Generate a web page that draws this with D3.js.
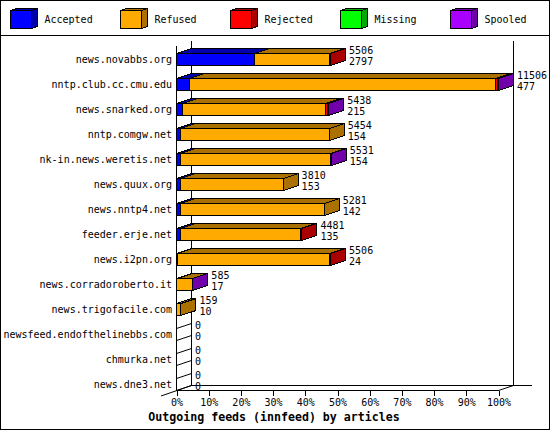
<!DOCTYPE html>
<html>
<head>
<meta charset="utf-8">
<script src="https://cdn.jsdelivr.net/npm/d3@7"></script>
<style>
  html, body { margin: 0; padding: 0; background: #fff; }
  svg { display: block; }
  text { font-family: "DejaVu Sans Mono", monospace; font-size: 10px; fill: #000; }
  .title { font-size: 11.6px; font-weight: bold; }
  .domain { display: none; }
  polygon, rect, line { shape-rendering: crispEdges; }
</style>
</head>
<body>
<div id="chart"></div>
<script>
const hosts = [
  "news.novabbs.org", "nntp.club.cc.cmu.edu", "news.snarked.org", "nntp.comgw.net",
  "nk-in.news.weretis.net", "news.quux.org", "news.nntp4.net", "feeder.erje.net",
  "news.i2pn.org", "news.corradoroberto.it", "news.trigofacile.com",
  "newsfeed.endofthelinebbs.com", "chmurka.net", "news.dne3.net",
];
const names = ["Accepted", "Refused", "Rejected", "Missing", "Spooled"];
const colors = ["#0000ff", "#ffaa00", "#ff0000", "#00ff00", "#aa00ff"];
const darkColors = ["#0000aa", "#aa7100", "#aa0000", "#00aa00", "#7100aa"];

const accepted = [2797, 477, 215, 154, 154, 153, 142, 135, 24, 17, 10, 0, 0, 0];
const refused = [2660, 10920, 5115, 5300, 5365, 3657, 5139, 4306, 5430, 555, 149, 0, 0, 0];
const rejected = [49, 60, 65, 0, 0, 0, 0, 40, 52, 0, 0, 0, 0, 0];
const missing = [0, 0, 0, 0, 0, 0, 0, 0, 0, 0, 0, 0, 0, 0];
const spooled = [0, 49, 43, 0, 12, 0, 0, 0, 0, 13, 0, 0, 0, 0];
const totals = [5506, 11506, 5438, 5454, 5531, 3810, 5281, 4481, 5506, 585, 159, 0, 0, 0];
const percentTicks = [0, 10, 20, 30, 40, 50, 60, 70, 80, 90, 100];

const w = 550;
const h = 430;
const depthX = 15;
const depthY = 5;
const barH = 12;

const svg = d3.select("#chart").append("svg").attr("width", w).attr("height", h);
svg.append("rect").attr("x", 0.5).attr("y", 0.5).attr("width", w - 1).attr("height", h - 1)
  .attr("fill", "#fff").attr("stroke", "#000");
svg.append("line").attr("x1", 0).attr("x2", w).attr("y1", 35.5).attr("y2", 35.5).attr("stroke", "#000");

// legend
const legendX = d3.scalePoint().domain(names).range([10.5, 450.5]);
names.forEach((name, i) => {
  const g = svg.append("g").attr("transform", `translate(${legendX(name)},10.5)`);
  box(g, 0, 0, 21, 18, 6, 2, colors[i], true, darkColors[i]);
  g.append("text").attr("x", 34).attr("y", 9).attr("dy", "0.35em").text(name);
});

// draws a front face, the top face and optionally the side face
function box(g, x0, y0, bw, bh, dx, dy, front, side, dark) {
  const pts = (a) => a.map((p) => p.join(",")).join(" ");
  g.append("polygon")
    .attr("points", pts([[x0, y0], [x0 + dx, y0 - dy], [x0 + bw + dx, y0 - dy], [x0 + bw, y0]]))
    .attr("fill", dark).attr("stroke", "#000");
  if (side) {
    g.append("polygon")
      .attr("points", pts([[x0 + bw, y0], [x0 + bw + dx, y0 - dy], [x0 + bw + dx, y0 + bh - dy], [x0 + bw, y0 + bh]]))
      .attr("fill", dark).attr("stroke", "#000");
  }
  g.append("rect").attr("x", x0).attr("y", y0).attr("width", bw).attr("height", bh)
    .attr("fill", front).attr("stroke", "#000");
}

const x = d3.scaleLinear().domain([0, d3.max(totals)]).range([176.5, 498.5]);
const xPct = d3.scaleLinear().domain([0, 100]).range([176.5, 498.5]);
const y = d3.scaleBand().domain(hosts).range([47, 397]);
const rowMid = (host) => y(host) + y.bandwidth() / 2;

// walls of the plot
const plotBottom = 390.5;
const plotTop = 45.5;
const walls = [
  [x.range()[0], plotTop, x.range()[0], plotBottom],
  [x.range()[0] + depthX, plotTop - depthY, x.range()[0] + depthX, plotBottom - depthY],
  [x.range()[1] + depthX, plotTop - depthY, x.range()[1] + depthX, plotBottom - depthY],
  [x.range()[0], plotBottom, x.range()[1], plotBottom],
  [x.range()[0] + depthX, plotBottom - depthY, 532, plotBottom - depthY],
  [x.range()[1], plotBottom, x.range()[1] + depthX, plotBottom - depthY],
  [161, 396, x.range()[0] + depthX, plotBottom - depthY],
];
svg.append("g").selectAll("line").data(walls).join("line")
  .attr("x1", (d) => d[0]).attr("y1", (d) => d[1])
  .attr("x2", (d) => d[2]).attr("y2", (d) => d[3])
  .attr("stroke", "#000")
  .style("shape-rendering", (d) => (d[0] === d[2] || d[1] === d[3] ? "crispEdges" : "auto"));

// bars
const series = [accepted, refused, rejected, missing, spooled];
hosts.forEach((host, row) => {
  const top = rowMid(host) - barH / 2;
  const g = svg.append("g");
  const parts = series.map((s, i) => ({ i, v: s[row] })).filter((d) => d.v > 0);
  if (parts.length === 0) {
    [top, top + barH].forEach((yy) => {
      g.append("line").attr("x1", x(0)).attr("x2", x(0) + depthX)
        .attr("y1", yy).attr("y2", yy - depthY).attr("stroke", "#000")
        .style("shape-rendering", "auto");
    });
  }
  let sum = 0;
  parts.forEach((d, k) => {
    const x0 = x(sum);
    const x1 = x(sum + d.v);
    sum += d.v;
    box(g, x0, top, x1 - x0, barH, depthX, depthY, colors[d.i], k === parts.length - 1, darkColors[d.i]);
  });
  const labelX = x(totals[row]) + 18.5;
  g.append("text").attr("x", labelX).attr("y", rowMid(host) - 9).attr("dy", "0.35em").text(totals[row]);
  g.append("text").attr("x", labelX).attr("y", rowMid(host) + 2).attr("dy", "0.35em").text(accepted[row]);
});

// axes
const yAxis = svg.append("g").attr("transform", "translate(176,0)")
  .call(d3.axisLeft(y).tickSize(0).tickPadding(4));
yAxis.attr("font-family", null).attr("font-size", null);

const xAxis = svg.append("g").attr("transform", `translate(0,${plotBottom})`)
  .call(d3.axisBottom(xPct).tickValues(percentTicks).tickFormat((d) => `${d}%`).tickSize(5).tickPadding(3));
xAxis.attr("font-family", null).attr("font-size", null);
xAxis.selectAll("line").attr("stroke", "#000");

svg.append("text").attr("class", "title").attr("x", 274).attr("y", 417).attr("dy", "0.35em")
  .attr("text-anchor", "middle").text("Outgoing feeds (innfeed) by articles");
</script>
</body>
</html>
